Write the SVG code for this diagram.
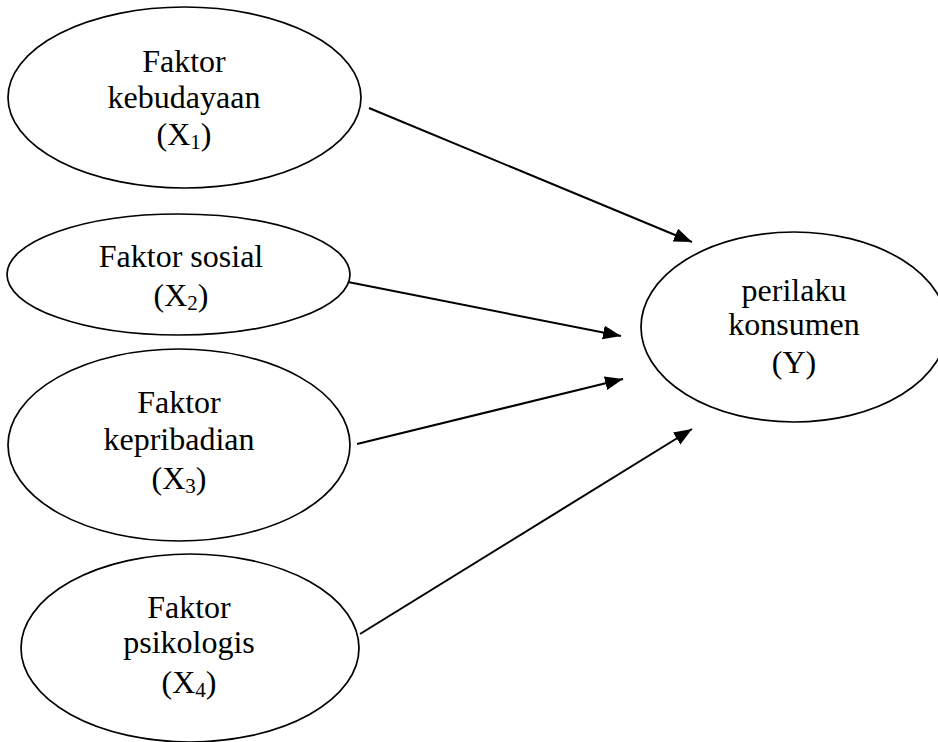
<svg xmlns="http://www.w3.org/2000/svg" width="938" height="742" viewBox="0 0 938 742">
<style>
.n{fill:#fff;stroke:#000;stroke-width:1.7}
.t{font-family:"Liberation Serif","Times New Roman",serif;font-size:32px;fill:#000;text-anchor:middle}
.s{font-size:21px}
.c{stroke:#000;stroke-width:2;fill:none;marker-end:url(#ah)}
</style>
<defs>
<marker id="ah" markerUnits="userSpaceOnUse" markerWidth="20" markerHeight="16" refX="18" refY="7" orient="auto">
<path d="M0,0 L18,7 L0,14 z" fill="#000"/>
</marker>
</defs>
<rect width="938" height="742" fill="#fff"/>
<g id="x1">
<ellipse class="n" cx="184.5" cy="97.5" rx="176.5" ry="90.5"/>
<text class="t" x="184" y="72">Faktor</text>
<text class="t" x="184" y="108">kebudayaan</text>
<text class="t" x="184" y="145">(X<tspan class="s" dy="4">1</tspan><tspan dy="-4">)</tspan></text>
</g>
<g id="x2">
<ellipse class="n" cx="178.5" cy="274.5" rx="171.5" ry="60.5"/>
<text class="t" x="181" y="267">Faktor sosial</text>
<text class="t" x="181" y="306">(X<tspan class="s" dy="4">2</tspan><tspan dy="-4">)</tspan></text>
</g>
<g id="x3">
<ellipse class="n" cx="179" cy="445" rx="171" ry="96"/>
<text class="t" x="179" y="413">Faktor</text>
<text class="t" x="179" y="450">kepribadian</text>
<text class="t" x="179" y="489">(X<tspan class="s" dy="4">3</tspan><tspan dy="-4">)</tspan></text>
</g>
<g id="x4">
<ellipse class="n" cx="190" cy="648" rx="169" ry="94"/>
<text class="t" x="189" y="618">Faktor</text>
<text class="t" x="189" y="653">psikologis</text>
<text class="t" x="189" y="693">(X<tspan class="s" dy="4">4</tspan><tspan dy="-4">)</tspan></text>
</g>
<g id="y">
<ellipse class="n" cx="794" cy="327" rx="153" ry="95"/>
<text class="t" x="794" y="301">perilaku</text>
<text class="t" x="794" y="335">konsumen</text>
<text class="t" x="794" y="373">(Y)</text>
</g>
<g id="connectors">
<line class="c" x1="369" y1="108" x2="692" y2="242"/>
<line class="c" x1="348" y1="282" x2="621" y2="336"/>
<line class="c" x1="357" y1="444" x2="623" y2="379"/>
<line class="c" x1="360" y1="634" x2="692" y2="429"/>
</g>
</svg>
